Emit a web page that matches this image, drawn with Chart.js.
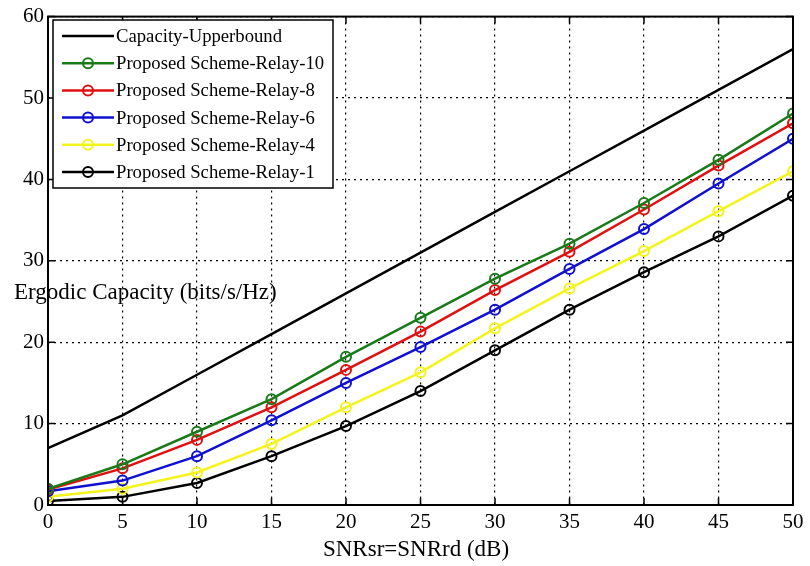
<!DOCTYPE html>
<html>
<head>
<meta charset="UTF-8">
<script src="https://cdn.jsdelivr.net/npm/chart.js@4.4.0/dist/chart.umd.min.js"></script>
<style>
*{margin:0;padding:0}
body{background:#fff;width:810px;height:566px;overflow:hidden}
</style>
</head>
<body>
<canvas id="c" width="810" height="566"></canvas>
<script>
// SNR values (dB)
const snr = [0, 5, 10, 15, 20, 25, 30, 35, 40, 45, 50];
const upperbound = [7, 11, 16, 21, 26, 31, 36, 41, 46, 51, 56];
const relay10 = [2, 5, 9, 13, 18.2, 23, 27.8, 32.1, 37.1, 42.4, 48.1];
const relay8 = [1.9, 4.5, 8, 12, 16.6, 21.3, 26.4, 31.1, 36.3, 41.7, 46.9];
const relay6 = [1.7, 3, 6, 10.4, 15, 19.4, 24, 29, 33.9, 39.5, 45];
const relay4 = [1, 2, 4, 7.5, 12, 16.3, 21.7, 26.6, 31.2, 36.1, 41];
const relay1 = [0.5, 1, 2.7, 6, 9.7, 14, 19, 24, 28.6, 33, 38];
const xTicks = [0, 5, 10, 15, 20, 25, 30, 35, 40, 45, 50];
const yTicks = [0, 10, 20, 30, 40, 50, 60];

const serif = '"Liberation Serif", "DejaVu Serif", serif';
const pts = arr => arr.map((v, i) => ({ x: snr[i], y: v }));

function series(label, data, color, marker) {
  return {
    label, data: pts(data),
    borderColor: color, backgroundColor: 'transparent',
    borderWidth: 2.5,
    pointRadius: marker ? 5 : 0, pointBorderWidth: 2,
    pointBorderColor: color, pointBackgroundColor: 'transparent',
    tension: 0
  };
}

const frame = {
  id: 'frame',
  afterDatasetsDraw(chart) {
    const { ctx, chartArea: a, scales: { x, y } } = chart;
    ctx.save();
    ctx.strokeStyle = '#000';
    ctx.lineWidth = 1.5;
    // inward ticks
    ctx.beginPath();
    xTicks.forEach(t => {
      const px = x.getPixelForValue(t);
      ctx.moveTo(px, a.bottom); ctx.lineTo(px, a.bottom - 7);
      ctx.moveTo(px, a.top); ctx.lineTo(px, a.top + 7);
    });
    yTicks.forEach(t => {
      const py = y.getPixelForValue(t);
      ctx.moveTo(a.left, py); ctx.lineTo(a.left + 7, py);
      ctx.moveTo(a.right, py); ctx.lineTo(a.right - 7, py);
    });
    ctx.stroke();
    ctx.lineWidth = 2;
    ctx.strokeRect(a.left, a.top, a.right - a.left, a.bottom - a.top);

    // legend box
    const lx = 53, ly = 20, lw = 280, lh = 168;
    ctx.fillStyle = '#fff';
    ctx.fillRect(lx, ly, lw, lh);
    ctx.lineWidth = 1.5;
    ctx.strokeRect(lx, ly, lw, lh);
    ctx.font = '18.7px ' + serif;
    ctx.textBaseline = 'middle';
    chart.data.datasets.forEach((ds, i) => {
      const cy = 36 + i * 27.2;
      ctx.strokeStyle = ds.borderColor;
      ctx.lineWidth = 2.5;
      ctx.beginPath(); ctx.moveTo(62, cy); ctx.lineTo(114, cy); ctx.stroke();
      if (ds.pointRadius > 0) {
        ctx.lineWidth = 2;
        ctx.beginPath(); ctx.arc(88, cy, 5, 0, Math.PI * 2); ctx.stroke();
      }
      ctx.fillStyle = '#000';
      ctx.textAlign = 'left';
      ctx.fillText(ds.label, 116, cy + 1);
    });

    // axis titles (as in the figure, y title is horizontal over the plot)
    ctx.font = '23px ' + serif;
    ctx.fillStyle = '#000';
    ctx.textAlign = 'left';
    ctx.fillText('Ergodic Capacity (bits/s/Hz)', 14, 293);
    ctx.textAlign = 'center';
    ctx.fillText('SNRsr=SNRrd (dB)', 416, 550);
    ctx.restore();
  }
};

new Chart(document.getElementById('c'), {
  type: 'line',
  data: {
    datasets: [
      series('Capacity-Upperbound', upperbound, '#000000', false),
      series('Proposed Scheme-Relay-10', relay10, '#1a7a1a', true),
      series('Proposed Scheme-Relay-8', relay8, '#e01010', true),
      series('Proposed Scheme-Relay-6', relay6, '#1010d0', true),
      series('Proposed Scheme-Relay-4', relay4, '#f4f41c', true),
      series('Proposed Scheme-Relay-1', relay1, '#000000', true)
    ]
  },
  options: {
    responsive: false, animation: false, devicePixelRatio: 1,
    layout: { padding: { top: 16, right: 17, left: 0, bottom: 0 } },
    plugins: { legend: { display: false }, tooltip: { enabled: false } },
    scales: {
      x: {
        type: 'linear', min: 0, max: 50,
        afterFit: s => { s.height = 61; },
        afterBuildTicks: s => { s.ticks = xTicks.map(v => ({ value: v })); },
        grid: { color: '#000', lineWidth: 1.2, drawTicks: false },
        border: { display: false, dash: [2, 4] },
        ticks: { color: '#000', padding: 5, font: { family: serif, size: 21 }, maxRotation: 0 }
      },
      y: {
        min: 0, max: 60,
        afterFit: s => { s.width = 48; },
        afterBuildTicks: s => { s.ticks = yTicks.map(v => ({ value: v })); },
        grid: { color: '#000', lineWidth: 1.2, drawTicks: false },
        border: { display: false, dash: [2, 4] },
        ticks: { color: '#000', padding: 4, font: { family: serif, size: 21 } }
      }
    }
  },
  plugins: [frame]
});
</script>
</body>
</html>
